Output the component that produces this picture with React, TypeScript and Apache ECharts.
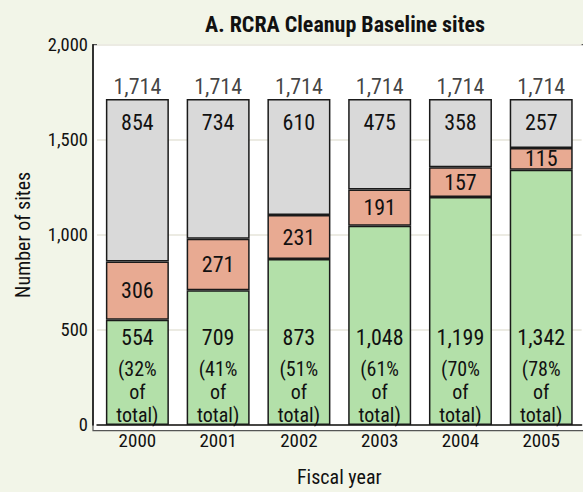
import React, { useEffect, useRef } from "react";
import * as echarts from "echarts";

const years = ["2000", "2001", "2002", "2003", "2004", "2005"];
const completed = [554, 709, 873, 1048, 1199, 1342];
const inProgress = [306, 271, 231, 191, 157, 115];
const remaining = [854, 734, 610, 475, 358, 257];
const totals = [1714, 1714, 1714, 1714, 1714, 1714];
const yTicks = [0, 500, 1000, 1500, 2000];

const FONT = "'Liberation Sans Narrow', 'Roboto Condensed', 'DejaVu Sans Condensed', 'Liberation Sans', sans-serif";
const fmt = (v: number) => v.toLocaleString("en-US");

export default function App() {
  const ref = useRef<HTMLDivElement>(null);
  useEffect(() => {
    if (!ref.current) return;
    const chart = echarts.init(ref.current, null, { renderer: "svg" });
    const gridLeft = 97;
    const gridTop = 44.7;
    const gridHeight = 386;
    const gridWidth = 484.6;
    chart.setOption({
      animation: false,
      backgroundColor: "#f2f5e8",
      textStyle: { fontFamily: FONT },
      title: {
        text: "A. RCRA Cleanup Baseline sites",
        left: 340,
        textAlign: "center",
        top: 8,
        textStyle: { fontFamily: FONT, fontSize: 22, fontWeight: "bold", color: "#111" },
      },
      graphic: [
        {
          type: "rect",
          z: -10,
          shape: { x: 93, y: gridTop, width: 520, height: gridHeight },
          style: { fill: "#ffffff", stroke: "#555", lineWidth: 1.2 },
          silent: true,
        },
      ],
      grid: { left: gridLeft, top: gridTop, width: gridWidth, height: gridHeight },
      xAxis: {
        type: "category",
        data: years,
        axisLine: { show: true, lineStyle: { color: "#111", width: 1.5 } },
        axisTick: { show: false },
        axisLabel: { fontFamily: FONT, fontSize: 19, color: "#111", margin: 6 },
        name: "Fiscal year",
        nameLocation: "middle",
        nameGap: 42,
        nameTextStyle: { fontFamily: FONT, fontSize: 20, color: "#111" },
      },
      yAxis: {
        type: "value",
        min: yTicks[0],
        max: yTicks[yTicks.length - 1],
        interval: 500,
        offset: 4,
        axisLine: { show: true, lineStyle: { color: "#111", width: 1.5 } },
        axisTick: { show: false },
        axisLabel: { fontFamily: FONT, fontSize: 18.5, color: "#111", margin: 5, formatter: (v: number) => fmt(v) },
        splitLine: { show: true, lineStyle: { color: "#ecebe3", width: 2 } },
        name: "Number of sites",
        nameLocation: "middle",
        nameGap: 60,
        nameTextStyle: { fontFamily: FONT, fontSize: 20, color: "#111" },
      },
      series: [
        {
          type: "bar",
          stack: "s",
          barWidth: 63,
          data: completed,
          itemStyle: { color: "#b3e0a9", borderColor: "#1a1a1a", borderWidth: 1.5 },
          label: {
            show: true,
            position: "insideBottom",
            distance: -1,
            formatter: (p: any) =>
              `{n|${fmt(p.value)}}\n{p|(${Math.round((p.value / totals[p.dataIndex]) * 100)}%}\n{p|of}\n{p|total)}`,
            rich: {
              n: { fontFamily: FONT, fontSize: 22, lineHeight: 40, color: "#111" },
              p: { fontFamily: FONT, fontSize: 20, lineHeight: 23, color: "#111" },
            },
          },
        },
        {
          type: "bar",
          stack: "s",
          barWidth: 63,
          data: inProgress,
          itemStyle: { color: "#e8aa92", borderColor: "#1a1a1a", borderWidth: 1.5 },
          label: {
            show: true,
            position: "inside",
            fontFamily: FONT,
            fontSize: 22,
            color: "#111",
          },
        },
        {
          type: "bar",
          stack: "s",
          barWidth: 63,
          data: remaining,
          itemStyle: { color: "#d9d9d9", borderColor: "#1a1a1a", borderWidth: 1.5 },
          label: {
            show: true,
            position: "insideTop",
            distance: 12,
            fontFamily: FONT,
            fontSize: 22,
            color: "#111",
          },
        },
        {
          type: "scatter",
          data: totals,
          symbolSize: 1,
          itemStyle: { color: "rgba(0,0,0,0)" },
          label: {
            show: true,
            position: "top",
            distance: 1,
            fontFamily: FONT,
            fontSize: 22,
            color: "#111",
            formatter: (p: any) => fmt(p.value),
          },
        },
      ],
    });
    return () => chart.dispose();
  }, []);
  return <div ref={ref} style={{ position: "fixed", left: 0, top: 0, width: 583, height: 492 }} />;
}
